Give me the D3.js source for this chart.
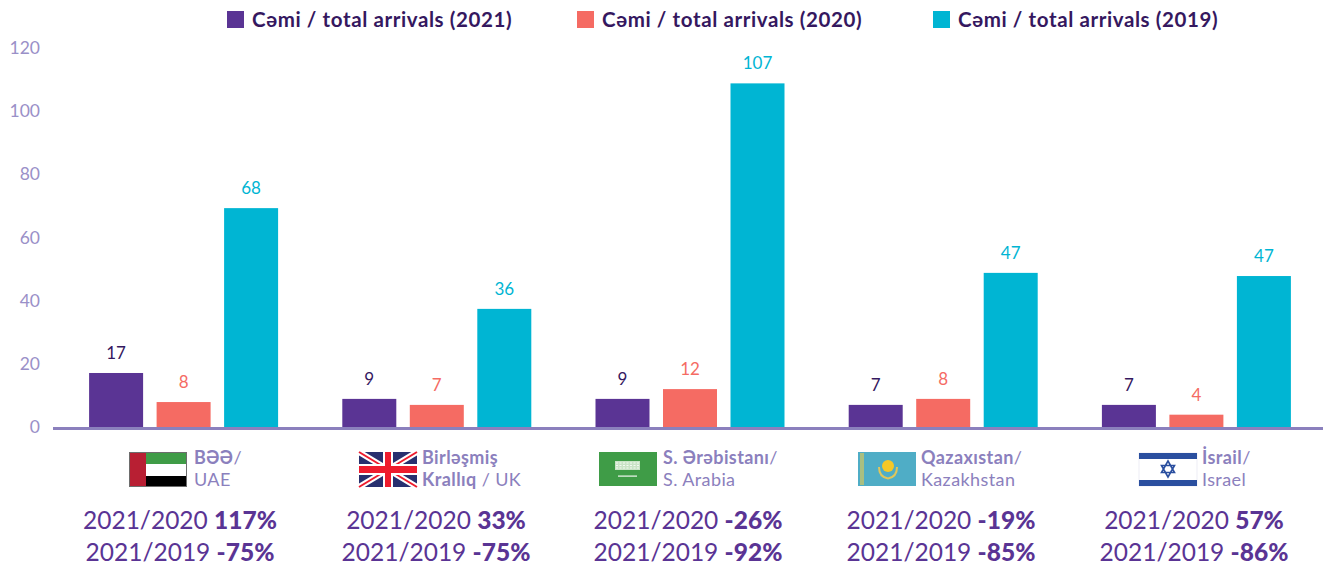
<!DOCTYPE html>
<html>
<head>
<meta charset="utf-8">
<script src="https://cdn.jsdelivr.net/npm/d3@7"></script>
<style>
  html, body { margin: 0; padding: 0; background: #fff; }
  svg { display: block; }
  text { font-family: Lato, "Open Sans", sans-serif; }
</style>
</head>
<body>
<svg id="chart" width="1330" height="566"></svg>
<script>
const countries = ["UAE", "UK", "S. Arabia", "Kazakhstan", "Israel"];
const seriesNames = ["2021", "2020", "2019"];
const yTicks = [0, 20, 40, 60, 80, 100, 120];

// bar heights, the printed labels differ slightly
const bars2021 = [17.1, 8.9, 8.9, 7, 7];
const bars2020 = [7.9, 7, 12, 8.9, 3.9];
const bars2019 = [69.3, 37.4, 108.8, 48.8, 47.8];
const labels2021 = ["17", "9", "9", "7", "7"];
const labels2020 = ["8", "7", "12", "8", "4"];
const labels2019 = ["68", "36", "107", "47", "47"];

const namesBold = [["BƏƏ"], ["Birləşmiş", "Krallıq"], ["S. Ərəbistanı"], ["Qazaxıstan"], ["İsrail"]];
const namesPlain = ["UAE", "UK", "S. Arabia", "Kazakhstan", "Israel"];
const change2020 = ["117%", "33%", "-26%", "-19%", "57%"];
const change2019 = ["-75%", "-75%", "-92%", "-85%", "-86%"];

const colors = { 2021: "#5a3494", 2020: "#f56b63", 2019: "#00b5d3" };
const labelColors = { 2021: "#35185f", 2020: "#f56b63", 2019: "#00b5d3" };
const muted = "#8b80bd";

const svg = d3.select("#chart");

const x0 = d3.scaleBand().domain(countries).range([57, 1323]);
const x1 = d3.scaleBand().domain(seriesNames).range([-94.5, 94.5]).paddingInner(0.2).paddingOuter(0);
const y = d3.scaleLinear().domain([0, 120]).range([427, 48]);

// y axis labels only
const axis = svg.append("g")
  .attr("transform", "translate(40,0)")
  .call(d3.axisLeft(y).tickValues(yTicks).tickSize(0).tickPadding(0));
axis.select(".domain").remove();
axis.selectAll("text")
  .attr("font-size", 17.5)
  .attr("font-family", "Lato")
  .attr("fill", "#9a90c8");

const rows = [
  { year: "2021", values: bars2021, labels: labels2021 },
  { year: "2020", values: bars2020, labels: labels2020 },
  { year: "2019", values: bars2019, labels: labels2019 },
];

const groups = svg.selectAll("g.group")
  .data(countries)
  .join("g")
  .attr("class", "group")
  .attr("transform", (d) => `translate(${x0(d) + x0.bandwidth() / 2},0)`);

groups.each(function (_, i) {
  const g = d3.select(this);
  rows.forEach((row) => {
    g.append("rect")
      .attr("x", x1(row.year))
      .attr("y", y(row.values[i]))
      .attr("width", x1.bandwidth())
      .attr("height", y(0) - y(row.values[i]))
      .attr("fill", colors[row.year]);
    g.append("text")
      .attr("x", x1(row.year) + x1.bandwidth() / 2)
      .attr("y", y(row.values[i]) - 14)
      .attr("text-anchor", "middle")
      .attr("font-size", 17)
      .attr("fill", labelColors[row.year])
      .text(row.labels[i]);
  });
});

// baseline
svg.append("line")
  .attr("x1", 53).attr("x2", 1323)
  .attr("y1", 428.5).attr("y2", 428.5)
  .attr("stroke", muted).attr("stroke-width", 3);

// legend
const legendX = [227, 577, 933];
const legend = svg.selectAll("g.legend")
  .data(seriesNames)
  .join("g")
  .attr("class", "legend")
  .attr("transform", (d, i) => `translate(${legendX[i]},0)`);
legend.append("rect")
  .attr("y", 11).attr("width", 17).attr("height", 17)
  .attr("fill", (d) => colors[d]);
legend.append("text")
  .attr("x", 25).attr("y", 27)
  .attr("font-size", 20.5)
  .attr("font-weight", 700)
  .attr("letter-spacing", 0.6)
  .attr("fill", "#35185f")
  .text((d) => `Cəmi / total arrivals (${d})`);

// flags, x is the left edge of each 58 wide flag
const flagX = [129, 359, 599, 858, 1139];
function rect(g, x, y, w, h, fill) {
  return g.append("rect").attr("x", x).attr("y", y).attr("width", w).attr("height", h).attr("fill", fill);
}
const flagW = 58, flagH = 35;
const flags = flagX.map((fx) => svg.append("g").attr("transform", `translate(${fx},452)`));

// UAE
rect(flags[0], 0, 0, flagW, flagH, "#6d6d6d");
rect(flags[0], 1, 1, 56, 11, "#3f9c47");
rect(flags[0], 1, 12, 56, 12, "#fff");
rect(flags[0], 1, 24, 56, 10, "#000");
rect(flags[0], 1, 1, 16, 33, "#b81f33");

// UK
rect(flags[1], 0, 0, flagW, flagH, "#28306f");
flags[1].append("path").attr("d", "M0 0L58 35M58 0L0 35").attr("stroke", "#fff").attr("stroke-width", 6);
flags[1].append("path").attr("d", "M0 0L58 35M58 0L0 35").attr("stroke", "#ee1c2e").attr("stroke-width", 2);
rect(flags[1], 0, 12, 58, 11, "#fff");
rect(flags[1], 24, 0, 10, 35, "#fff");
rect(flags[1], 0, 14, 58, 7, "#ee1c2e");
rect(flags[1], 26, 0, 6, 35, "#ee1c2e");

// Saudi Arabia
rect(flags[2], 0, 0, 58, 34, "#3f9c47");
rect(flags[2], 16, 9, 25, 9, "#c9e3c6");
flags[2].append("path").attr("d", "M17 11H40M17 13.5H40M17 16H40").attr("stroke", "#f4faf3").attr("stroke-width", 1).attr("stroke-dasharray", "2 1.5");
rect(flags[2], 19, 23.5, 19, 1.2, "#f2f8f1");

// Kazakhstan
rect(flags[3], 0, 0, 58, 34, "#4fadc6");
rect(flags[3], 2, 1, 4, 32, "#a9bf80");
flags[3].append("circle").attr("cx", 30).attr("cy", 14).attr("r", 6).attr("fill", "#f6c827");
flags[3].append("path").attr("d", "M21 15Q21 25 30 26.5Q39 25 39 15").attr("fill", "none").attr("stroke", "#e0c65a").attr("stroke-width", 2);

// Israel
rect(flags[4], 0, 1, flagW, 33, "#fff").attr("stroke", "#e4e6f0").attr("stroke-width", 0.7);
rect(flags[4], 0, 1, flagW, 6, "#2a4f9f");
rect(flags[4], 0, 28, flagW, 6, "#2a4f9f");
flags[4].append("path").attr("d", "M29 9L35.5 20.5L22.5 20.5ZM29 25L22.5 13.5L35.5 13.5Z").attr("fill", "none").attr("stroke", "#2a4f9f").attr("stroke-width", 1.6);

// country names
const nameX = [194, 422, 663, 921, 1202];
countries.forEach((c, i) => {
  const t = svg.append("text").attr("font-size", 18).attr("letter-spacing", 0.4).attr("fill", muted);
  const bold = namesBold[i];
  t.append("tspan").attr("x", nameX[i]).attr("y", 464).attr("font-weight", 700).text(bold[0]);
  if (bold.length > 1) {
    t.append("tspan").attr("x", nameX[i]).attr("y", 486).attr("font-weight", 700).text(bold[1]);
    t.append("tspan").text(" / " + namesPlain[i]);
  } else {
    t.append("tspan").text("/");
    t.append("tspan").attr("x", nameX[i]).attr("y", 486).text(namesPlain[i]);
  }
});

// change lines under each group
const statCenter = [180, 436, 688, 941, 1194];
function statLine(i, label, value, baseline) {
  const t = svg.append("text")
    .attr("x", statCenter[i]).attr("y", baseline)
    .attr("text-anchor", "middle")
    .attr("font-size", 24.5)
    .attr("fill", colors[2021]);
  t.append("tspan").text(label + " ");
  t.append("tspan").attr("font-weight", 900).text(value);
}
countries.forEach((c, i) => {
  statLine(i, "2021/2020", change2020[i], 529);
  statLine(i, "2021/2019", change2019[i], 561);
});
</script>
</body>
</html>
